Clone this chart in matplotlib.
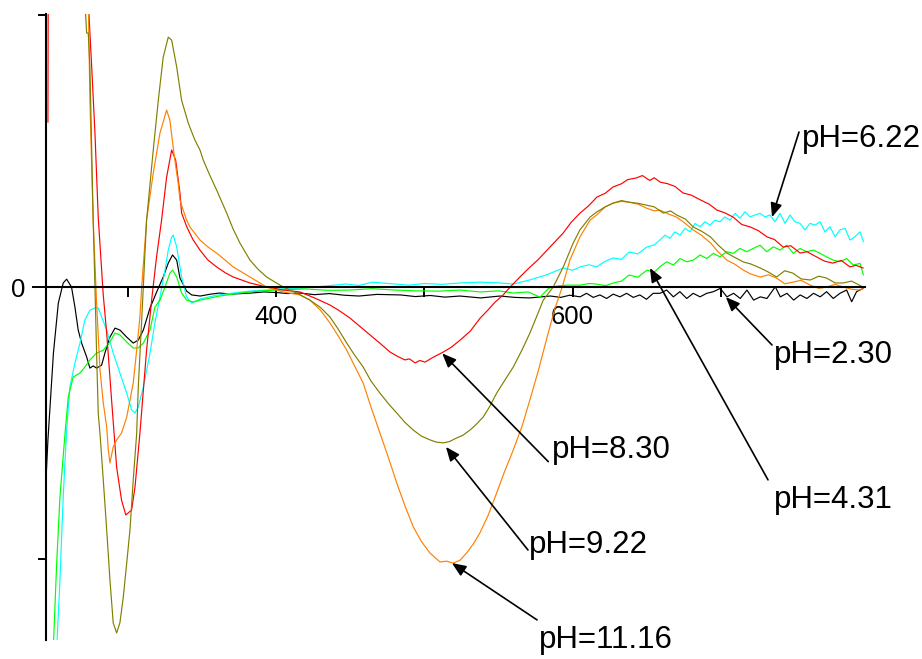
import matplotlib
matplotlib.use("Agg")
import matplotlib.pyplot as plt

plt.rcParams['font.family'] = ['Liberation Sans', 'DejaVu Sans']

# --- pH 2.30 (black) ---
wl_230 = [245, 246.3, 250, 253.3, 256.6, 258.9, 262.2, 264.5, 266.7, 269, 272.4, 274.6, 276.8, 279.1,
          282.5, 284.7, 288.1, 291.5, 294.8, 299.4, 303.8, 307.2, 310.6, 315.1, 319.6, 324, 327.4, 330.3,
          333.1, 335.3, 339.8, 343.2, 349, 356, 362, 370, 383, 392, 400, 408, 416, 426, 436, 446, 456,
          468, 484, 494, 504, 514, 524, 538, 551, 561, 571, 585, 592, 598, 605, 609.4, 613.9, 618.4,
          622.9, 627.4, 631.9, 636.4, 640.9, 645.3, 649.8, 654.3, 658.9, 663.4, 667.9, 672.3, 676.9,
          681.3, 685.9, 690.4, 694.9, 699.5, 704, 708.5, 713, 717.5, 722, 726.5, 731, 736.6, 740, 744.5,
          749, 753.4, 757.9, 762.4, 766.9, 771.2, 775.7, 780.2, 784.7, 788.1, 791.4, 795.9]
cd_230 = [-7.09, -5.62, -2.43, -0.59, 0.15, 0.29, 0.0, -0.74, -1.58, -2.06, -2.57, -2.98, -2.90, -2.98,
          -2.87, -2.43, -1.84, -1.51, -1.58, -1.84, -2.06, -1.95, -1.58, -0.77, -0.18, 0.37, 0.88, 1.18,
          0.99, 0.33, -0.15, -0.29, -0.33, -0.26, -0.22, -0.26, -0.22, -0.18, -0.20, -0.24, -0.22, -0.28,
          -0.24, -0.30, -0.33, -0.27, -0.29, -0.35, -0.31, -0.37, -0.33, -0.40, -0.33, -0.38, -0.40,
          -0.33, -0.38, -0.30, -0.36, -0.23, -0.38, -0.29, -0.42, -0.26, -0.36, -0.23, -0.38, -0.29,
          -0.45, -0.23, -0.23, -0.11, -0.36, -0.17, -0.42, -0.23, -0.36, -0.23, -0.17, -0.05, -0.36,
          -0.23, -0.42, -0.11, -0.48, -0.36, -0.42, 0.01, -0.36, -0.23, -0.48, -0.29, -0.42, -0.23,
          -0.36, -0.17, -0.42, -0.23, -0.11, -0.54, -0.17, -0.05]

# --- pH 6.22 (cyan) ---
wl_622 = [252.2, 254.4, 256.6, 258.9, 261.1, 264.5, 267.9, 271.2, 274.6, 278.0, 280.2, 282.5, 285.9,
          290.3, 294.8, 299.4, 302.7, 305.0, 307.2, 310.6, 315.1, 318.4, 321.8, 325.2, 327.4, 329.7,
          330.8, 333.1, 336.4, 339.8, 343.2, 348.8, 360, 371.2, 382, 393.7, 405, 416.2, 430, 447, 456,
          465, 478, 490, 500, 512, 524, 537.5, 551, 560, 571, 582, 593.7, 600, 605, 611, 616, 622, 627.4,
          633, 638.1, 644, 649.9, 655, 658.9, 662.3, 665.6, 669.0, 672.4, 675.8, 679.1, 682.5, 685.9,
          689.2, 692.6, 696.0, 699.3, 702.7, 706.1, 709.5, 712.8, 716.2, 719.6, 722.9, 726.3, 729.7,
          733.0, 736.4, 739.8, 743.2, 746.5, 749.9, 753.3, 756.6, 760.0, 763.4, 766.8, 770.1, 773.5,
          776.9, 780.2, 783.6, 787.0, 790.3, 793.7, 796.0]
cd_622 = [-13.3, -10.77, -7.72, -5.26, -3.68, -2.79, -2.06, -1.21, -0.85, -0.77, -0.77, -1.10, -1.58,
          -2.43, -3.16, -3.90, -4.52, -4.63, -4.41, -3.68, -2.43, -1.32, -0.37, 0.62, 1.36, 1.84, 1.91,
          1.47, 0.37, -0.37, -0.59, -0.44, -0.30, -0.22, -0.15, -0.11, -0.06, -0.04, 0.02, 0.11, 0.06,
          0.18, 0.12, 0.07, 0.13, 0.10, 0.15, 0.18, 0.15, 0.11, 0.26, 0.44, 0.70, 0.62, 0.74, 0.82, 0.74,
          0.95, 1.07, 1.02, 1.29, 1.22, 1.47, 1.55, 1.73, 1.91, 1.79, 2.03, 1.91, 2.16, 2.03, 2.34, 2.22,
          2.40, 2.28, 2.46, 2.40, 2.58, 2.46, 2.71, 2.53, 2.77, 2.58, 2.65, 2.71, 2.58, 2.65, 2.40, 2.71,
          2.34, 2.65, 2.40, 2.34, 2.10, 2.34, 2.28, 2.40, 2.03, 2.22, 1.85, 2.10, 2.16, 1.73, 1.85, 2.03,
          1.67]

# --- pH 4.31 (green) ---
wl_431 = [249.9, 252.2, 254.4, 257.8, 260.0, 263.3, 267.9, 271.2, 274.6, 279.1, 283.6, 288.1, 291.5,
          294.8, 299.4, 303.8, 307.2, 310.6, 315.1, 318.4, 321.8, 325.2, 328.5, 330.3, 333.1, 336.4,
          339.8, 344.2, 349, 362, 376, 388, 400, 410, 420, 435, 450, 465, 480, 495, 510, 524, 537.5, 550,
          560, 570, 578, 584, 590, 596, 605, 611, 616, 622, 627.4, 633, 638, 644, 650, 655, 658.9, 663.4,
          667.9, 672.4, 676.9, 681.4, 685.9, 690.4, 694.9, 699.3, 703.8, 708.3, 712.8, 717.3, 721.8,
          726.3, 730.8, 735.3, 739.8, 744.3, 748.8, 753.3, 757.8, 762.3, 766.8, 771.2, 775.7, 780.2,
          784.7, 789.2, 793.7, 796.0]
cd_431 = [-13.3, -10.15, -7.72, -5.40, -4.04, -3.31, -3.16, -2.94, -2.68, -2.43, -2.32, -2.02, -1.69,
          -1.76, -2.02, -2.24, -2.24, -2.06, -1.58, -0.74, -0.48, 0.0, 0.51, 0.62, 0.37, -0.22, -0.48,
          -0.55, -0.48, -0.33, -0.22, -0.15, -0.11, -0.09, -0.07, -0.12, -0.11, -0.06, -0.11, -0.14,
          -0.15, -0.11, -0.18, -0.14, -0.22, -0.18, -0.37, -0.04, 0.04, 0.07, 0.07, 0.13, 0.11, 0.05,
          0.15, 0.22, 0.44, 0.36, 0.62, 0.55, 0.75, 0.93, 0.81, 1.05, 0.93, 0.99, 1.18, 1.05, 1.24, 1.11,
          1.30, 1.24, 1.42, 1.30, 1.42, 1.54, 1.30, 1.48, 1.36, 1.54, 1.24, 1.42, 1.30, 1.36, 1.24, 1.11,
          0.99, 0.93, 1.05, 0.81, 0.87, 0.45]

# --- pH 8.30 (red) ---
wl_830 = [246.3, 246.6, 258, 273.5, 275.8, 278.0, 280.2, 283.6, 285.9, 289.2, 292.6, 295.9, 298.8,
          302.7, 305.0, 308.3, 312.8, 316.2, 319.5, 322.9, 326.3, 329.7, 332.4, 335.3, 336.4, 340, 344,
          348.8, 354, 360, 366, 371.2, 382.5, 393.7, 404.9, 416.2, 426, 436.4, 443, 449.9, 456, 463.4,
          470, 476.9, 482, 487.0, 490, 493.8, 497, 500.5, 506, 512.8, 518, 524.2, 531, 537.7, 543, 547.8,
          553, 557.9, 565, 571.4, 577, 582.8, 588, 593.7, 599, 605.0, 611, 616.4, 622, 627.2, 633, 637,
          642.8, 647, 652, 655, 658.9, 664, 669, 674.4, 680, 686.3, 692, 697.3, 703, 708.3, 714, 719.7,
          725, 731.2, 736, 741.9, 747, 753.4, 758, 764.7, 770, 775.5, 781, 787.0, 791, 795.8]
cd_830 = [6.07, 14.0, 30.0, 10.5, 8.09, 5.66, 2.57, -0.3, -1.69, -4.15, -6.62, -7.83, -8.38, -8.20,
          -7.35, -5.37, -2.32, -0.48, 1.1, 2.46, 4.04, 5.04, 4.67, 3.46, 2.72, 2.2, 1.75, 1.36, 1.0, 0.74,
          0.52, 0.37, 0.15, 0.0, -0.11, -0.18, -0.40, -0.66, -0.88, -1.14, -1.42, -1.76, -2.06, -2.39,
          -2.55, -2.68, -2.64, -2.79, -2.70, -2.76, -2.58, -2.39, -2.22, -1.95, -1.62, -1.14, -0.84,
          -0.55, -0.30, 0.0, 0.40, 0.74, 1.02, 1.36, 1.66, 1.99, 2.38, 2.72, 3.00, 3.31, 3.45, 3.68, 3.80,
          3.95, 4.01, 4.10, 3.92, 4.02, 3.86, 3.80, 3.70, 3.46, 3.38, 3.20, 3.05, 2.83, 2.72, 2.57, 2.30,
          2.21, 2.08, 1.84, 1.75, 1.47, 1.52, 1.25, 1.30, 1.10, 0.95, 0.88, 0.98, 0.74, 0.80, 0.70]

# --- pH 11.16 (orange) ---
wl_1116 = [262, 273.5, 274.6, 275.8, 276.8, 279.1, 281.4, 283.6, 285.9, 287.0, 288.1, 290.3, 292.6,
           295.9, 299.4, 303.8, 306.1, 308.3, 309.5, 312.8, 317.3, 321.8, 326.3, 328.5, 329.7, 331.5,
           334.1, 335.3, 337.5, 339.8, 342.0, 348.8, 354, 360, 366, 371.2, 382.5, 393.7, 404.9, 416.2,
           422.9, 430, 436.4, 442, 447.7, 453, 458.8, 464, 470.1, 476, 481.4, 487, 492.6, 498, 503.8,
           510.6, 515, 519.5, 524, 528.5, 533, 537.5, 543, 548.8, 554, 560.0, 566, 571.2, 577, 582.5, 588,
           593, 598.2, 604.9, 611.7, 616.2, 622, 627.4, 633, 638.1, 644, 649.9, 655, 658.9, 664, 670.1,
           675, 681.3, 687, 693.0, 698, 704.0, 709, 715.2, 720, 726.5, 732, 737.5, 743, 748.5, 754, 760.2,
           766, 771.2, 777, 782.5, 788, 793.8, 796]
cd_1116 = [20.0, 10.5, 6.87, 4.41, 2.46, -0.59, -3.05, -4.26, -5.15, -5.99, -6.47, -5.88, -5.62, -5.37,
           -4.78, -3.53, -2.32, -1.10, 0.0, 2.46, 4.19, 5.66, 6.51, 6.14, 5.6, 4.8, 3.82, 3.2, 2.83, 2.46,
           2.21, 1.73, 1.48, 1.25, 0.98, 0.74, 0.37, 0.0, -0.18, -0.29, -0.48, -0.85, -1.32, -1.80, -2.32,
           -2.90, -3.53, -4.40, -5.37, -6.30, -7.20, -8.05, -8.82, -9.35, -9.78, -10.11, -10.08, -10.15,
           -10.05, -9.78, -9.45, -9.04, -8.40, -7.57, -6.80, -5.99, -5.10, -4.15, -3.05, -1.90, -0.80,
           0.0, 1.0, 1.84, 2.46, 2.65, 2.95, 3.09, 3.15, 3.12, 3.05, 2.90, 2.80, 2.83, 2.70, 2.57, 2.38,
           2.10, 1.90, 1.62, 1.30, 0.99, 0.85, 0.62, 0.48, 0.37, 0.45, 0.33, 0.12, 0.18, 0.25, 0.07,
           -0.05, 0.0, 0.10, 0.0, -0.08, -0.11, -0.05]

# --- pH 9.22 (olive) ---
wl_922 = [262, 271.2, 272.4, 273.5, 274.6, 276.8, 278.0, 279.1, 280.2, 281.4, 283.6, 285.9, 288.1,
          290.3, 292.6, 294.8, 297.1, 299.4, 301.6, 303.8, 306.1, 307.2, 309.5, 311.7, 312.8, 317.3,
          320.7, 324.0, 327.4, 329.7, 333.1, 336.4, 340.9, 345.4, 348.8, 351.0, 355.5, 360.0, 366.8, 371,
          375.7, 382.5, 388, 393.7, 404.9, 414, 422.9, 430, 436.4, 442, 447.7, 453, 458.8, 464, 470.1,
          476, 481.4, 487, 492.6, 498, 503.8, 508, 512.8, 517, 521.8, 526, 530.8, 535, 539.7, 544, 548.8,
          554, 560.0, 566, 571.2, 576, 580.2, 586.9, 593.7, 600.4, 604.9, 611.7, 616.2, 622, 627.4, 633,
          638.1, 644, 649.9, 655, 661.1, 666, 670.1, 676, 681.3, 687, 693.0, 698, 704.0, 709, 715.2, 720,
          726.5, 732, 737.5, 743, 748.5, 754, 760.2, 766, 771.2, 777, 782.5, 788, 795.8]
cd_922 = [20.0, 10.5, 9.34, 9.34, 8.09, 2.46, 0.0, -2.43, -4.63, -5.40, -7.09, -8.93, -10.77, -12.35,
          -12.72, -12.35, -11.40, -10.15, -8.93, -7.09, -5.40, -3.68, -1.21, 1.25, 2.46, 5.04, 6.87, 8.45,
          9.19, 9.08, 8.09, 6.87, 6.03, 5.40, 5.04, 4.67, 4.10, 3.57, 2.72, 2.15, 1.62, 0.99, 0.65, 0.37,
          0.0, -0.22, -0.48, -0.75, -1.10, -1.55, -2.06, -2.50, -2.94, -3.45, -3.90, -4.30, -4.63, -4.98,
          -5.26, -5.48, -5.62, -5.70, -5.73, -5.68, -5.55, -5.45, -5.26, -5.05, -4.78, -4.40, -3.90,
          -3.45, -2.94, -2.30, -1.69, -1.05, -0.48, 0.0, 0.74, 1.62, 2.10, 2.57, 2.76, 2.95, 3.09, 3.18,
          3.12, 3.08, 3.01, 2.95, 2.72, 2.80, 2.65, 2.50, 2.21, 2.05, 1.84, 1.55, 1.25, 1.10, 0.92, 0.85,
          0.70, 0.55, 0.37, 0.60, 0.51, 0.30, 0.26, 0.40, 0.33, 0.15, 0.15, 0.22, 0.0]

series = [
    (wl_230, cd_230, '#000000'),
    (wl_622, cd_622, '#00ffff'),
    (wl_431, cd_431, '#00ff00'),
    (wl_830, cd_830, '#ff0000'),
    (wl_1116, cd_1116, '#ff8000'),
    (wl_922, cd_922, '#808000'),
]

# label text, text anchor (baseline-left), arrow tail, arrow head
labels = ['pH=6.22', 'pH=2.30', 'pH=4.31', 'pH=8.30', 'pH=9.22', 'pH=11.16']
text_pos = [(754.3, 5.15), (736.0, -2.79), (736.0, -8.12), (586.2, -6.29), (570.6, -9.78), (577.5, -13.27)]
arrow_tail = [(752.6, 5.70), (734.4, -2.13), (731.7, -7.09), (583.6, -6.42), (569.9, -9.67), (576.0, -12.24)]
arrow_head = [(734.4, 2.57), (703.3, -0.37), (652.1, 0.70), (512.1, -2.44), (514.6, -5.88), (518.6, -10.15)]

xticks = [300, 400, 500, 600, 700]
xtick_labels = ['', '400', '', '600', '']
yticks = [-10, 0, 10]
ytick_labels = ['', '0', '']

fig = plt.figure(figsize=(9.22, 6.59), dpi=100)
ax = fig.add_axes([0.0499, 0.0288, 0.8883, 0.9499])

for wl, cd, col in series:
    ax.plot(wl, cd, color=col, lw=0.85)

ax.set_xlim(245, 797.1)
ax.set_ylim(-12.98, 10.04)

ax.spines['top'].set_visible(False)
ax.spines['right'].set_visible(False)
ax.spines['bottom'].set_position(('data', 0))
ax.spines['left'].set_linewidth(1.5)
ax.spines['bottom'].set_linewidth(1.5)

ax.set_xticks(xticks)
ax.set_xticklabels(xtick_labels)
ax.set_yticks(yticks)
ax.set_yticklabels(ytick_labels)
ax.tick_params(axis='x', direction='out', length=7, width=1.4, labelsize=18.5, pad=6)
ax.tick_params(axis='y', direction='out', length=6, width=1.4, labelsize=18.5, pad=9)
# zero tick on the y axis runs a bit further left
ax.yaxis.get_major_ticks()[1].tick1line.set_markersize(10)

for lab, tp, tail, head in zip(labels, text_pos, arrow_tail, arrow_head):
    ax.annotate('', xy=head, xytext=tail,
                arrowprops=dict(arrowstyle='-|>,head_length=0.6,head_width=0.25',
                                color='black', lw=1.2, mutation_scale=14,
                                shrinkA=0, shrinkB=0),
                annotation_clip=False)
    ax.text(tp[0], tp[1], lab, fontsize=22.5, ha='left', va='baseline', clip_on=False)

fig.savefig('out.png', dpi=100)
